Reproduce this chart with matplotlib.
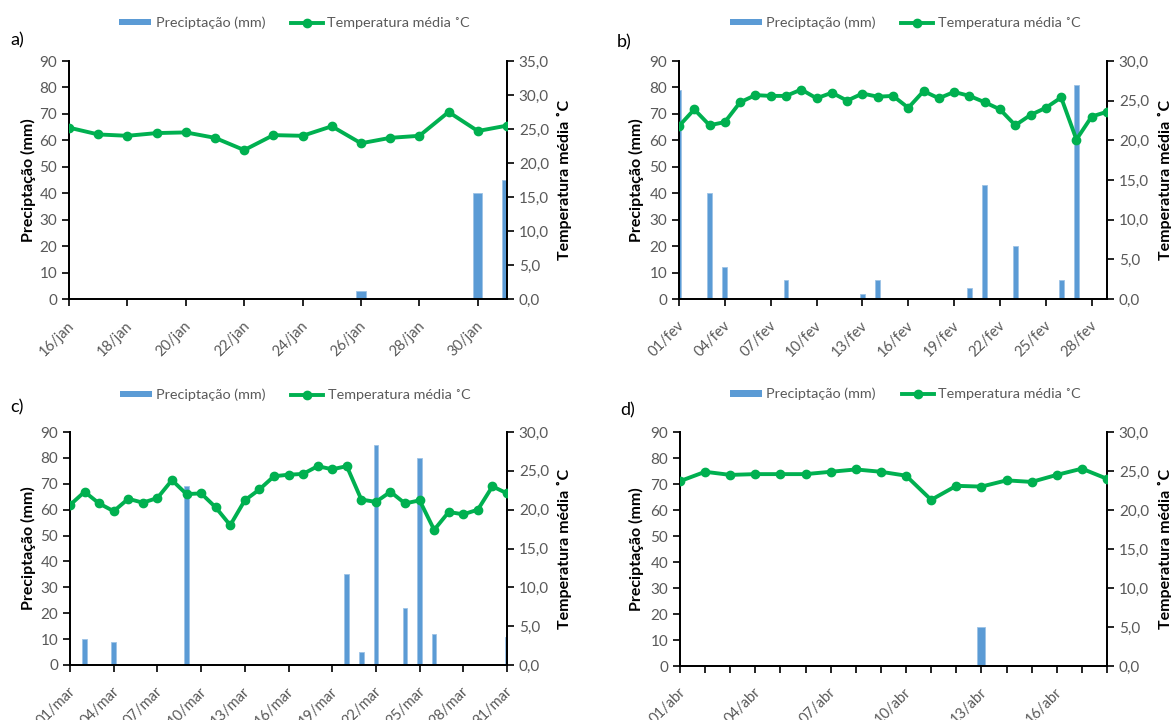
import matplotlib
matplotlib.use("Agg")
import matplotlib.pyplot as plt
from matplotlib.ticker import FixedLocator, FuncFormatter
from matplotlib.transforms import ScaledTranslation
from matplotlib.patches import Patch
from matplotlib.lines import Line2D

plt.rcParams['font.family'] = ['Lato', 'DejaVu Sans']

BAR_COLOR = '#5B9BD5'
LINE_COLOR = '#00B050'
GRAY = '#595959'

# a) janeiro
jan_days = list(range(16, 32))
jan_temp = [25.2, 24.2, 24.0, 24.4, 24.5, 23.7, 21.9, 24.1, 24.0, 25.4,
            22.9, 23.7, 24.0, 27.5, 24.7, 25.5]
jan_rain_days = [26, 30, 31]
jan_rain_mm = [3, 40, 45]
jan_label_days = [16, 18, 20, 22, 24, 26, 28, 30]

# b) fevereiro
fev_days = list(range(1, 30))
fev_temp = [21.8, 23.9, 21.9, 22.3, 24.8, 25.7, 25.6, 25.6, 26.4, 25.3,
            26.0, 25.0, 25.9, 25.5, 25.6, 24.1, 26.2, 25.3, 26.1, 25.6,
            24.8, 23.9, 21.9, 23.2, 24.1, 25.4, 20.1, 23.0, 23.6]
fev_rain_days = [1, 3, 4, 8, 13, 14, 20, 21, 23, 26, 27]
fev_rain_mm = [79, 40, 12, 7, 2, 7, 4, 43, 20, 7, 81]
fev_label_days = [1, 4, 7, 10, 13, 16, 19, 22, 25, 28]

# c) março
mar_days = list(range(1, 32))
mar_temp = [20.6, 22.3, 20.8, 19.8, 21.4, 20.9, 21.5, 23.8, 22.0, 22.1,
            20.3, 18.0, 21.2, 22.6, 24.3, 24.5, 24.6, 25.6, 25.2, 25.6,
            21.3, 21.0, 22.3, 20.8, 21.2, 17.4, 19.7, 19.4, 20.0, 23.0,
            22.1]
mar_rain_days = [2, 4, 9, 20, 21, 22, 24, 25, 26, 31]
mar_rain_mm = [10, 9, 69, 35, 5, 85, 22, 80, 12, 11]
mar_label_days = [1, 4, 7, 10, 13, 16, 19, 22, 25, 28, 31]

# d) abril
abr_days = list(range(1, 19))
abr_temp = [23.7, 24.9, 24.5, 24.6, 24.6, 24.6, 24.9, 25.2, 24.9, 24.4,
            21.3, 23.1, 23.0, 23.8, 23.6, 24.5, 25.3, 24.0]
abr_rain_days = [13]
abr_rain_mm = [15]
abr_label_days = [1, 4, 7, 10, 13, 16]

W, H = 1171, 720


def rect(left, top, right, bottom):
    return [left / W, 1 - bottom / H, (right - left) / W, (bottom - top) / H]


def comma(v, pos):
    return f"{v:.1f}".replace(".", ",")


def draw_panel(fig, box, letter, letter_xy, month, days, temp, rain_days, rain_mm,
               label_days, tmax, every_day_ticks, ylab_x, y2lab_x, leg_xy):
    ax = fig.add_axes(rect(*box))
    ax2 = ax.twinx()

    ax.bar(rain_days, rain_mm, width=0.32, color=BAR_COLOR, edgecolor='#9DC3E6',
           linewidth=0.6, zorder=2)
    ax2.plot(days, temp, color=LINE_COLOR, lw=2.8, marker='o', ms=6,
             solid_joinstyle='round', zorder=3)

    ax.set_xlim(days[0], days[-1])
    ax.set_ylim(0, 90)
    ax.set_yticks(range(0, 91, 10))
    ax2.set_ylim(0, tmax)
    ax2.set_yticks(range(0, tmax + 1, 5))
    ax2.yaxis.set_major_formatter(FuncFormatter(comma))

    if every_day_ticks:
        ax.xaxis.set_minor_locator(FixedLocator(days))
        ax.tick_params(axis='x', which='minor', direction='out', length=5,
                       width=1.2, color='black')

    for a in (ax, ax2):
        a.spines['top'].set_visible(False)
        for s in ('left', 'right', 'bottom'):
            a.spines[s].set_color('black')
            a.spines[s].set_linewidth(1.3)
        a.tick_params(direction='out', length=5, width=1.2, color='black',
                      labelcolor=GRAY, labelsize=11)
    ax.tick_params(axis='x', pad=9, labelsize=10.5)

    # date labels, rotated like the spreadsheet axis
    ax.set_xticks(label_days)
    ax.set_xticklabels([f"{d:02d}/{month}" for d in label_days], rotation=45,
                       ha='right', va='center', rotation_mode='anchor')
    shift = ScaledTranslation(0.03, -0.05, fig.dpi_scale_trans)
    for lab in ax.get_xticklabels():
        lab.set_transform(lab.get_transform() + shift)

    cy = 1 - (box[1] + box[3]) / 2 / H
    fig.text(ylab_x / W, cy, 'Preciptação (mm)', rotation=90, ha='center',
             va='center', fontsize=11.5, fontweight='bold')
    fig.text(y2lab_x / W, cy, 'Temperatura média ˚C', rotation=90, ha='center',
             va='center', fontsize=11.5, fontweight='bold')
    fig.text(letter_xy[0] / W, 1 - letter_xy[1] / H, letter, ha='left',
             va='center', fontsize=13)

    handles = [Patch(facecolor=BAR_COLOR, edgecolor='none'),
               Line2D([], [], color=LINE_COLOR, lw=2.8, marker='o', ms=6)]
    ax.legend(handles, ['Preciptação (mm)', 'Temperatura média ˚C'],
              loc='center', bbox_to_anchor=leg_xy, ncol=2, frameon=False,
              fontsize=10.4, labelcolor=GRAY, handlelength=2.2,
              handleheight=0.35, handletextpad=0.3, columnspacing=1.8)
    return ax


fig = plt.figure(figsize=(W / 100, H / 100), dpi=100)

draw_panel(fig, (69, 61, 507, 299), 'a)', (10, 40), 'jan', jan_days, jan_temp,
           jan_rain_days, jan_rain_mm, jan_label_days, 35, False, 28, 564,
           (0.515, 1.16))
draw_panel(fig, (679, 61, 1107, 299), 'b)', (617, 42), 'fev', fev_days, fev_temp,
           fev_rain_days, fev_rain_mm, fev_label_days, 30, False, 636, 1165,
           (0.528, 1.16))
draw_panel(fig, (70, 432, 507, 665), 'c)', (10, 407), 'mar', mar_days, mar_temp,
           mar_rain_days, mar_rain_mm, mar_label_days, 30, False, 28, 564,
           (0.515, 1.159))
draw_panel(fig, (680, 432, 1107, 666), 'd)', (620, 410), 'abr', abr_days, abr_temp,
           abr_rain_days, abr_rain_mm, abr_label_days, 30, True, 636, 1165,
           (0.528, 1.162))

fig.savefig('out.png', dpi=100)
